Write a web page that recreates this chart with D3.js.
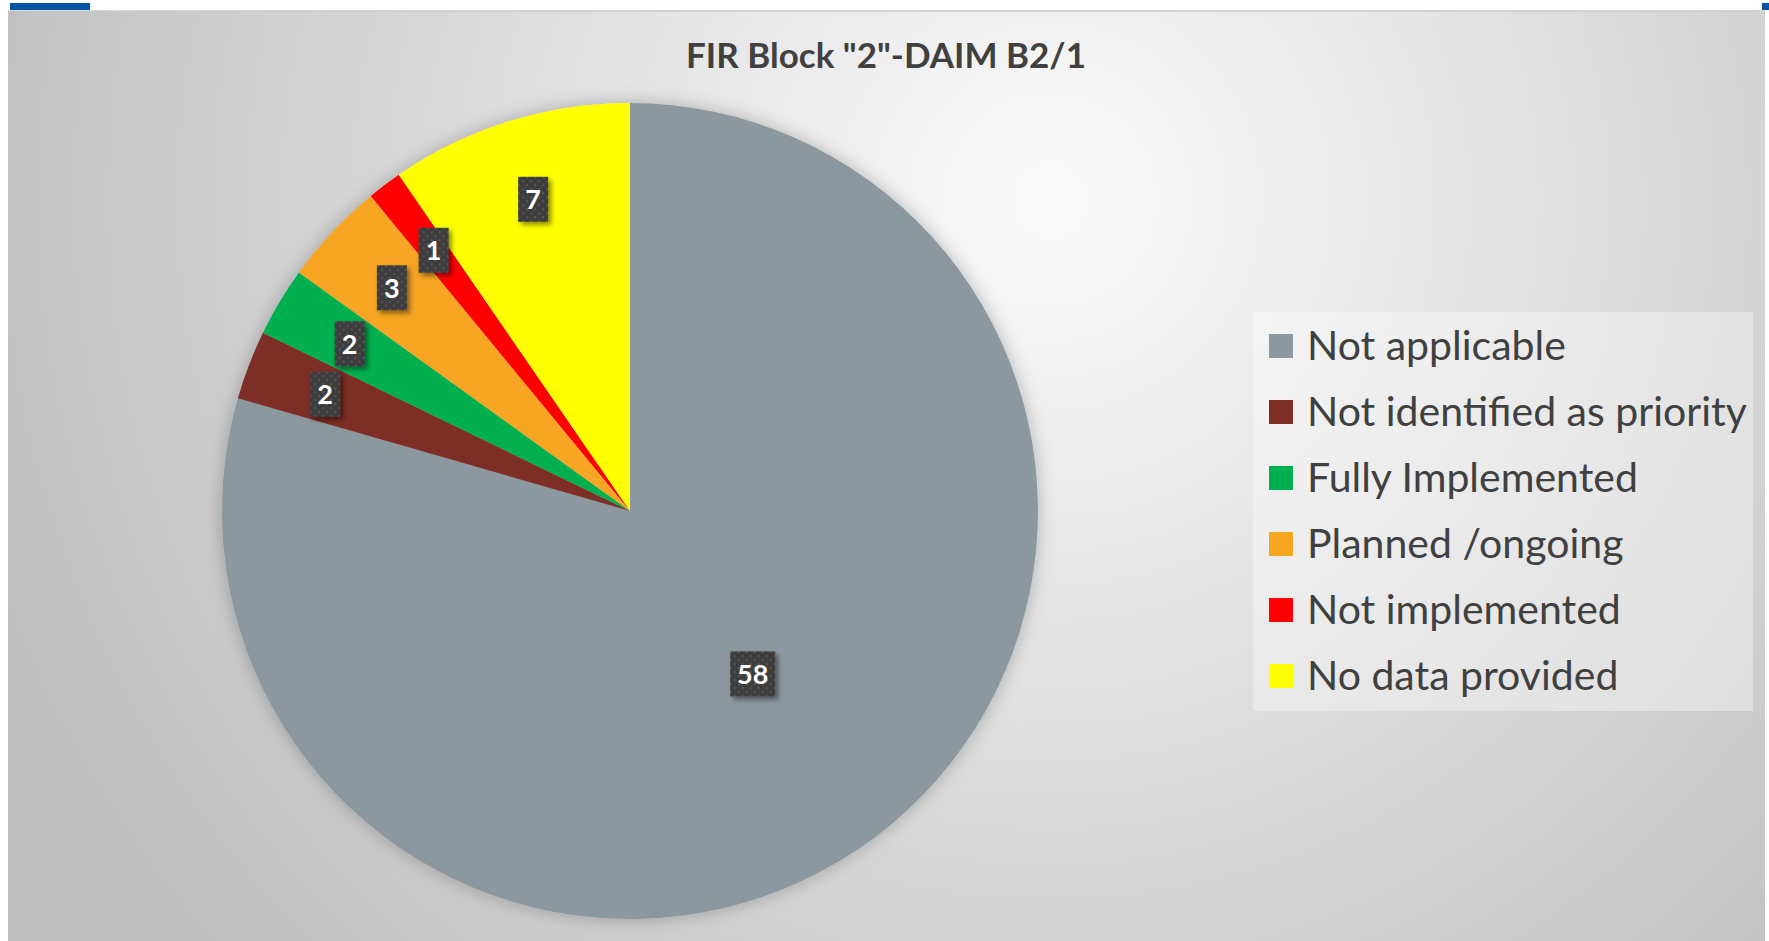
<!DOCTYPE html><html><head><meta charset="UTF-8"><script src="https://d3js.org/d3.v7.min.js"></script><style>
            body { margin: 0; background: #fff; }
            svg { display: block; font-family: Lato, "Open Sans", sans-serif; }
        </style></head><body><div id="chart"></div><script>
            const categories = ["Not applicable", "Not identified as priority", "Fully Implemented", "Planned /ongoing", "Not implemented", "No data provided"];
            const values = [58, 2, 2, 3, 1, 7];
            const colors = ["#8c98a0", "#7d2f26", "#00b050", "#f7a520", "#ff0000", "#ffff00"];
            const title = 'FIR Block "2"-DAIM B2/1';

            const fullWidth = 1769, fullHeight = 941;
            const cx = 630, cy = 511, radius = 408;

            const svg = d3.select('#chart').append('svg')
                .attr('width', fullWidth)
                .attr('height', fullHeight);

            const defs = svg.append('defs');
            const grad = defs.append('radialGradient')
                .attr('id', 'bg')
                .attr('gradientUnits', 'userSpaceOnUse')
                .attr('cx', 1050).attr('cy', 200).attr('r', 1150);
            grad.append('stop').attr('offset', '0%').attr('stop-color', '#fbfbfb');
            grad.append('stop').attr('offset', '100%').attr('stop-color', '#bdbdbd');

            const dots = defs.append('pattern')
                .attr('id', 'dots')
                .attr('patternUnits', 'userSpaceOnUse')
                .attr('width', 8).attr('height', 8);
            dots.append('rect').attr('width', 8).attr('height', 8).attr('fill', '#3d3d3d');
            dots.append('circle').attr('cx', 2).attr('cy', 2).attr('r', 1.2).attr('fill', '#555');
            dots.append('circle').attr('cx', 6).attr('cy', 6).attr('r', 1.2).attr('fill', '#555');

            defs.append('filter').attr('id', 'boxShadow')
                .attr('x', '-50%').attr('y', '-50%').attr('width', '200%').attr('height', '200%')
                .append('feDropShadow')
                .attr('dx', 3).attr('dy', 3).attr('stdDeviation', 2.5)
                .attr('flood-color', '#000').attr('flood-opacity', 0.45);

            defs.append('filter').attr('id', 'pieShadow')
                .attr('x', '-20%').attr('y', '-20%').attr('width', '140%').attr('height', '140%')
                .append('feDropShadow')
                .attr('dx', 0).attr('dy', 0).attr('stdDeviation', 9)
                .attr('flood-color', '#000').attr('flood-opacity', 0.25);

            // top decoration
            svg.append('rect').attr('x', 10).attr('y', 3).attr('width', 80).attr('height', 7).attr('fill', '#0055a5');
            svg.append('rect').attr('x', 1762).attr('y', 3).attr('width', 7).attr('height', 7).attr('fill', '#0055a5');

            // chart area
            svg.append('rect')
                .attr('x', 8).attr('y', 11)
                .attr('width', 1757).attr('height', fullHeight - 11)
                .attr('fill', 'url(#bg)');
            svg.append('line')
                .attr('x1', 8).attr('x2', 1765).attr('y1', 11).attr('y2', 11)
                .attr('stroke', '#c8c8c8').attr('stroke-width', 1.5);

            svg.append('text')
                .attr('x', 886).attr('y', 68)
                .attr('text-anchor', 'middle')
                .attr('font-size', 35)
                .attr('font-weight', 'bold')
                .attr('fill', '#404040')
                .text(title);

            const data = categories.map((c, i) => ({ name: c, value: values[i], color: colors[i] }));
            const pie = d3.pie().sort(null).value(d => d.value);
            const arcs = pie(data);
            const arc = d3.arc().innerRadius(0).outerRadius(radius);

            const g = svg.append('g').attr('transform', `translate(${cx},${cy})`);
            g.append('g').attr('filter', 'url(#pieShadow)')
                .selectAll('path')
                .data(arcs)
                .enter().append('path')
                .attr('d', arc)
                .attr('fill', d => d.data.color);

            // labels: largest slice at half radius, small ones near the rim
            const maxVal = d3.max(values);
            const labels = g.append('g').selectAll('g')
                .data(arcs)
                .enter().append('g')
                .attr('transform', d => {
                    const f = d.data.value === maxVal ? 0.5 : 0.8;
                    const la = d3.arc().innerRadius(radius * f).outerRadius(radius * f);
                    const [x, y] = la.centroid(d);
                    return `translate(${x},${y})`;
                });
            labels.append('rect')
                .attr('x', d => -(String(d.data.value).length * 15 + 15) / 2)
                .attr('y', -22.5)
                .attr('width', d => String(d.data.value).length * 15 + 15)
                .attr('height', 45)
                .attr('fill', 'url(#dots)')
                .attr('filter', 'url(#boxShadow)');
            labels.append('text')
                .attr('text-anchor', 'middle')
                .attr('y', 10)
                .attr('font-size', 27)
                .attr('font-weight', 'bold')
                .attr('fill', '#fff')
                .text(d => d.data.value);

            // legend
            svg.append('rect')
                .attr('x', 1253).attr('y', 312)
                .attr('width', 500).attr('height', 399)
                .attr('fill', '#ffffff').attr('fill-opacity', 0.35);
            const legend = svg.append('g').selectAll('g')
                .data(data)
                .enter().append('g')
                .attr('transform', (d, i) => `translate(1269,${334 + i * 66})`);
            legend.append('rect')
                .attr('width', 24).attr('height', 24)
                .attr('fill', d => d.color);
            legend.append('text')
                .attr('x', 38).attr('y', 26)
                .attr('font-size', 41)
                .attr('fill', '#404040')
                .text(d => d.name);
        </script></body></html>
